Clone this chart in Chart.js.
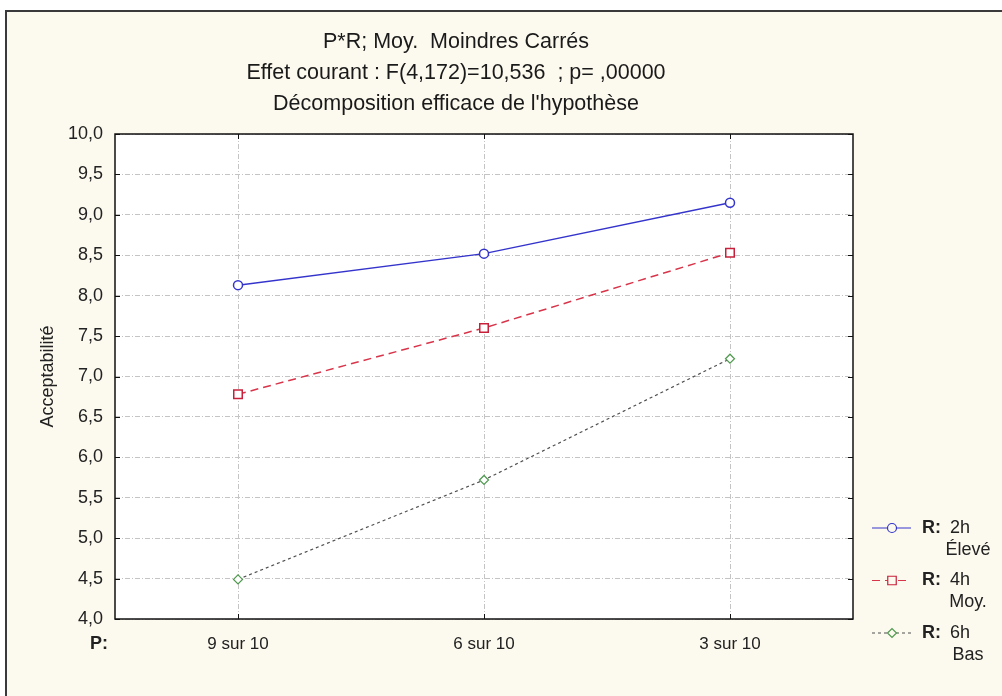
<!DOCTYPE html>
<html>
<head>
<meta charset="utf-8">
<script src="https://cdn.jsdelivr.net/npm/chart.js@4.4.1/dist/chart.umd.min.js"></script>
<style>
    html, body { margin: 0; padding: 0; background: #fff; }
</style>
</head>
<body>
<canvas id="acceptabilite-grafica" width="1002" height="696"></canvas>
<script>
// données
const categories = ['9 sur 10', '6 sur 10', '3 sur 10'];
const eleve = [8.13, 8.52, 9.15];
const moyen = [6.78, 7.60, 8.53];
const bas = [4.49, 5.72, 7.22];
const niveauxR = ['2h', '4h', '6h'];
const libellesR = ['Élevé', 'Moy.', 'Bas'];
const titres = [
    'P*R; Moy.  Moindres Carrés',
    'Effet courant : F(4,172)=10,536  ; p= ,00000',
    "Décomposition efficace de l'hypothèse"
];

const police = '"Liberation Sans", Arial, sans-serif';

(() => {
    // fond, cadre et textes autour du graphique
    const decor = {
        id: 'decor',
        beforeDraw(chart) {
            const { ctx, chartArea: a } = chart;
            ctx.save();
            ctx.fillStyle = '#ffffff';
            ctx.fillRect(0, 0, chart.width, chart.height);
            ctx.fillStyle = '#fcf9ee';
            ctx.fillRect(6, 11, chart.width, chart.height);
            ctx.strokeStyle = '#3a3a3a';
            ctx.lineWidth = 2;
            ctx.beginPath();
            ctx.moveTo(6, chart.height);
            ctx.lineTo(6, 11);
            ctx.lineTo(chart.width, 11);
            ctx.stroke();
            ctx.fillStyle = '#ffffff';
            ctx.fillRect(a.left, a.top, a.right - a.left, a.bottom - a.top);
            ctx.restore();
        },
        afterDraw(chart) {
            const { ctx, chartArea: a, scales } = chart;
            ctx.save();

            // titres
            ctx.fillStyle = '#1a1a1a';
            ctx.textAlign = 'center';
            ctx.textBaseline = 'middle';
            ctx.font = '21.5px ' + police;
            titres.forEach((t, i) => ctx.fillText(t, 456, 42 + i * 31));

            // cadre du graphique
            ctx.strokeStyle = '#111';
            ctx.lineWidth = 1.5;
            ctx.strokeRect(a.left, a.top, a.right - a.left, a.bottom - a.top);

            // graduations intérieures
            ctx.lineWidth = 1;
            ctx.beginPath();
            scales.y.ticks.forEach(t => {
                const y = Math.round(scales.y.getPixelForValue(t.value)) + 0.5;
                ctx.moveTo(a.left, y); ctx.lineTo(a.left + 5, y);
                ctx.moveTo(a.right - 5, y); ctx.lineTo(a.right, y);
            });
            categories.forEach((c, i) => {
                const x = Math.round(scales.x.getPixelForValue(i)) + 0.5;
                ctx.moveTo(x, a.bottom); ctx.lineTo(x, a.bottom - 5);
                ctx.moveTo(x, a.top); ctx.lineTo(x, a.top + 5);
            });
            ctx.stroke();

            // "P:"
            ctx.font = 'bold 18px ' + police;
            ctx.fillStyle = '#222';
            ctx.textAlign = 'right';
            ctx.fillText('P:', 108, 644);

            // légende
            chart.data.datasets.forEach((ds, i) => {
                const y = 528 + i * 52.5;
                ctx.strokeStyle = ds.borderColor;
                ctx.lineWidth = 1.2;
                ctx.setLineDash(ds.borderDash || []);
                ctx.beginPath();
                ctx.moveTo(872, y); ctx.lineTo(911, y);
                ctx.stroke();
                ctx.setLineDash([]);
                ctx.strokeStyle = ds.pointBorderColor;
                ctx.fillStyle = '#fcf9ee';
                Chart.helpers.drawPoint(ctx, {
                    pointStyle: ds.pointStyle, radius: ds.pointRadius, borderWidth: 1.5
                }, 892, y);
                ctx.fillStyle = '#222';
                ctx.textAlign = 'left';
                ctx.font = 'bold 18px ' + police;
                ctx.fillText('R:', 922, y);
                ctx.font = '18px ' + police;
                ctx.fillText(niveauxR[i], 950, y);
                ctx.textAlign = 'center';
                ctx.fillText(libellesR[i], 968, y + 22);
            });
            ctx.restore();
        }
    };

    const ctx = document.getElementById('acceptabilite-grafica').getContext('2d');
    const myChart = new Chart(ctx, {
        type: 'line',
        data: {
            labels: categories,
            datasets: [{
                label: 'R: 2h Élevé',
                data: eleve,
                borderColor: '#3434cc',
                pointBorderColor: '#3434cc',
                pointBackgroundColor: '#ffffff',
                pointStyle: 'circle',
                pointRadius: 4.5,
                borderWidth: 1.5
            }, {
                label: 'R: 4h Moy.',
                data: moyen,
                borderColor: '#d8344a',
                pointBorderColor: '#c8203a',
                pointBackgroundColor: '#ffffff',
                pointStyle: 'rect',
                pointRadius: 6,
                borderWidth: 1.5,
                borderDash: [8, 5]
            }, {
                label: 'R: 6h Bas',
                data: bas,
                borderColor: '#505050',
                pointBorderColor: '#4f9a4f',
                pointBackgroundColor: '#ffffff',
                pointStyle: 'rectRot',
                pointRadius: 4.5,
                borderWidth: 1.2,
                borderDash: [3, 3]
            }]
        },
        options: {
            responsive: false,
            animation: false,
            layout: {
                padding: { top: 134, right: 149, left: 0, bottom: 0 }
            },
            scales: {
                x: {
                    offset: true,
                    grid: { offset: false, color: '#c4c4c4', drawTicks: false },
                    border: { display: false, dash: [5, 2, 1, 2] },
                    ticks: {
                        padding: 15,
                        color: '#222',
                        font: { family: police, size: 17 }
                    },
                    afterFit: scale => { scale.height = 77; }
                },
                y: {
                    min: 4,
                    max: 10,
                    grid: { color: '#c4c4c4', drawTicks: false },
                    border: { display: false, dash: [5, 2, 1, 2] },
                    ticks: {
                        stepSize: 0.5,
                        padding: 12,
                        color: '#222',
                        font: { family: police, size: 18 },
                        callback: v => v.toFixed(1).replace('.', ',')
                    },
                    title: {
                        display: true,
                        text: 'Acceptabilité',
                        color: '#222',
                        font: { family: police, size: 18 },
                        padding: { top: 37, bottom: 0 }
                    },
                    afterFit: scale => { scale.width = 115; }
                }
            },
            plugins: {
                legend: { display: false },
                tooltip: { enabled: false }
            }
        },
        plugins: [decor]
    });
})();
</script>
</body>
</html>
